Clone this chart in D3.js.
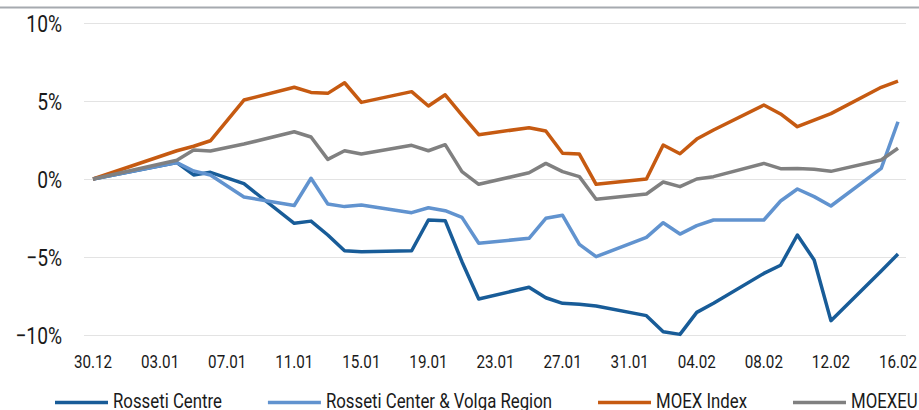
<!doctype html>
<html>
<head>
<meta charset="utf-8">
<script src="https://d3js.org/d3.v7.min.js"></script>
<style>
  body { margin: 0; background: #fff; }
  text { font-family: "Roboto", "Liberation Sans", sans-serif; fill: #1a1a1a; }
</style>
</head>
<body>
<div id="chart"></div>
<script>
// trading days (dd.mm.yyyy)
var days = ["30.12.2020","04.01.2021","05.01.2021","06.01.2021","08.01.2021",
  "11.01.2021","12.01.2021","13.01.2021","14.01.2021","15.01.2021",
  "18.01.2021","19.01.2021","20.01.2021","21.01.2021","22.01.2021",
  "25.01.2021","26.01.2021","27.01.2021","28.01.2021","29.01.2021",
  "01.02.2021","02.02.2021","03.02.2021","04.02.2021","05.02.2021",
  "08.02.2021","09.02.2021","10.02.2021","11.02.2021","12.02.2021",
  "15.02.2021","16.02.2021"];

// change since 30.12, %
var rossetiCentre = [0, 1.05, 0.26, 0.43, -0.3, -2.84, -2.7, -3.59, -4.6, -4.66,
  -4.6, -2.63, -2.67, -5.3, -7.69, -6.94, -7.61, -7.97, -8.03, -8.14,
  -8.76, -9.79, -9.96, -8.55, -7.97, -6.05, -5.53, -3.59, -5.19, -9.08, -5.9, -4.81];
var rossetiVolga = [0, 1.05, 0.51, 0.26, -1.15, -1.7, 0.05, -1.6, -1.77, -1.67,
  -2.16, -1.84, -2.03, -2.46, -4.12, -3.8, -2.52, -2.33, -4.19, -4.98,
  -3.74, -2.8, -3.53, -2.99, -2.63, -2.63, -1.41, -0.64, -1.13, -1.73, 0.68, 3.67];
var moexIndex = [0, 1.81, 2.1, 2.45, 5.06, 5.88, 5.55, 5.49, 6.17, 4.91,
  5.6, 4.68, 5.4, 4.1, 2.84, 3.29, 3.08, 1.65, 1.6, -0.34,
  0.0, 2.18, 1.62, 2.56, 3.14, 4.74, 4.17, 3.35, 3.78, 4.19, 5.88, 6.28];
var moexEu = [0, 1.2, 1.86, 1.79, 2.24, 3.03, 2.69, 1.26, 1.81, 1.6,
  2.16, 1.81, 2.2, 0.47, -0.34, 0.4, 1.0, 0.47, 0.15, -1.3,
  -0.96, -0.19, -0.49, 0.0, 0.15, 1.0, 0.66, 0.68, 0.62, 0.49, 1.22, 1.97];

var seriesNames = ["Rosseti Centre", "Rosseti Center & Volga Region", "MOEX Index", "MOEXEU"];
var seriesColors = ["#185c98", "#6193cf", "#c65a11", "#808080"];
var yTicks = [10, 5, 0, -5, -10];
var tickStepDays = 4;

var W = 919, H = 410;
var squeeze = 0.8;   // no condensed font installed, so narrow the text by hand
var parse = d3.timeParse("%d.%m.%Y");
var dates = days.map(parse);

var svg = d3.select("#chart").append("svg")
  .attr("width", W).attr("height", H);

function label(g, tx, ty, anchor, size, str) {
  var t = g.append("g")
    .attr("transform", "translate(" + tx + "," + ty + ") scale(" + squeeze + ",1)")
    .append("text")
    .attr("text-anchor", anchor)
    .style("font-size", size + "px")
    .text(str);
  return t;
}

// top border
svg.append("line")
  .attr("x1", 0).attr("x2", W).attr("y1", 7.5).attr("y2", 7.5)
  .attr("stroke", "#a6aaaf").attr("stroke-width", 2);

var x = d3.scaleTime()
  .domain([dates[0], dates[dates.length - 1]])
  .range([93, 898]);
var y = d3.scaleLinear().domain([-10, 10]).range([335, 23]);

// gridlines
svg.append("g").selectAll("line")
  .data(yTicks).enter().append("line")
  .attr("x1", 84).attr("x2", 906)
  .attr("y1", function(d) { return Math.round(y(d)) + 0.5; })
  .attr("y2", function(d) { return Math.round(y(d)) + 0.5; })
  .attr("stroke", "#e3e3e3").attr("stroke-width", 1);

// y labels
var gy = svg.append("g");
yTicks.forEach(function(d) {
  label(gy, 62, y(d) + 8.5, "end", 24, (d < 0 ? "\u2212" + Math.abs(d) : d) + "%");
});

// x labels, every 4 days from the first date
var xTicks = d3.timeDay.every(1).range(dates[0], d3.timeDay.offset(dates[dates.length - 1], 1))
  .filter(function(d, i) { return i % tickStepDays === 0; });
var fmt = d3.timeFormat("%d.%m");
var gx = svg.append("g");
xTicks.forEach(function(d) {
  label(gx, x(d), 367.5, "middle", 19, fmt(d));
});

// lines
var line = d3.line()
  .x(function(d, i) { return x(dates[i]); })
  .y(function(d) { return y(d); });

var allSeries = [rossetiCentre, rossetiVolga, moexIndex, moexEu];
svg.append("g").selectAll("path")
  .data(allSeries).enter().append("path")
  .attr("d", line)
  .attr("fill", "none")
  .attr("stroke", function(d, i) { return seriesColors[i]; })
  .attr("stroke-width", 3.5)
  .attr("stroke-linejoin", "round");

// legend
var legend = svg.append("g");
var lx = 55;
seriesNames.forEach(function(name, i) {
  legend.append("line")
    .attr("x1", lx).attr("x2", lx + 53)
    .attr("y1", 402.5).attr("y2", 402.5)
    .attr("stroke", seriesColors[i]).attr("stroke-width", 3.5);
  var t = label(legend, lx + 58, 407.5, "start", 21, name);
  lx += 58 + t.node().getComputedTextLength() * squeeze + 46;
});
</script>
</body>
</html>
